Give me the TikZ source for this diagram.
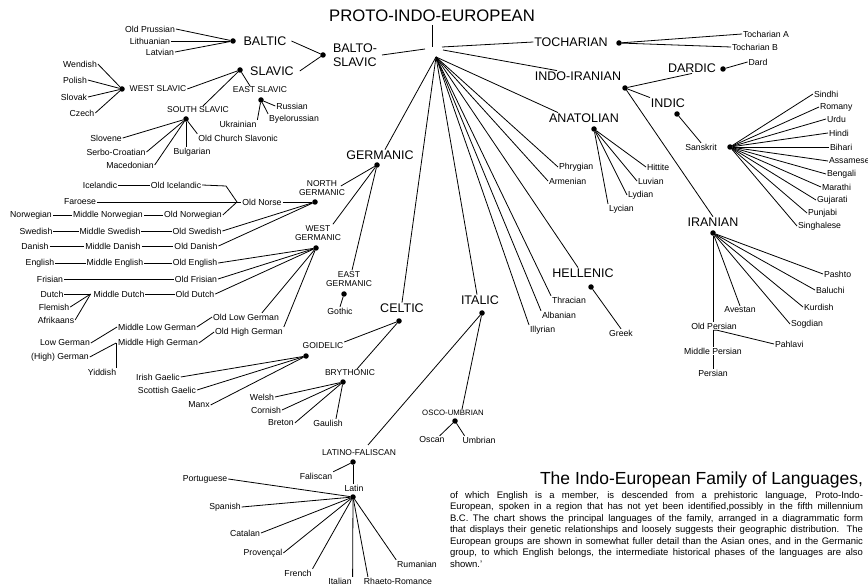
\documentclass[tikz,border=0pt]{standalone}
\usepackage{fontspec}
\setmainfont{Liberation Sans}
\begin{document}
\begin{tikzpicture}[x=1pt,y=-1pt,line width=0.8pt,
  every node/.style={inner sep=1pt, outer sep=0pt},
  lab/.style={font=\fontsize{8.7}{9}\selectfont},
  sub/.style={font=\fontsize{8.5}{9.5}\selectfont, align=center},
  grp/.style={font=\fontsize{12.5}{14}\selectfont},
  dot/.style={circle, fill=black, inner sep=0pt, minimum size=5.5pt},
  para/.style={anchor=base west, inner sep=0pt, font=\fontsize{9.5}{11}\selectfont},
]
\useasboundingbox (0,0) rectangle (868,588);

% ---------- root ----------
\node[font=\fontsize{16.7}{18}\selectfont] (pie) at (432,16) {PROTO-INDO-EUROPEAN};
\coordinate (rv) at (432,47);
\coordinate (root) at (436,57);
\coordinate (rbs) at (425,49);
\coordinate (rto) at (442,47);
\coordinate (rii) at (443,50);
\draw ([yshift=-2pt]pie.south) -- (rv);

% ---------- Balto-Slavic ----------
\node[grp, align=left] (bs) at (355,55) {BALTO-\\SLAVIC};
\node[dot] (bsd) at (323,55) {};
\draw (rbs) -- ([xshift=4pt]bs.east);
\node[grp] (baltic) at (265,41) {BALTIC};
\node[dot] (bald) at (233,41) {};
\node[grp] (slavic) at (272,71) {SLAVIC};
\node[dot] (slad) at (240,70) {};
\draw (bsd) -- ([xshift=4pt]baltic.east);
\draw (bsd) -- ([xshift=5pt]slavic.east);

\node[lab] (oprus) at (150,29) {Old Prussian};
\node[lab] (lith) at (150,41) {Lithuanian};
\node[lab] (latv) at (160,52) {Latvian};
\foreach \n in {oprus,lith,latv} \draw (\n.east) -- (bald);

\node[sub] (wsl) at (158,89) {WEST SLAVIC};
\node[dot] (wsld) at (122,89) {};
\node[sub] (ssl) at (198,110) {SOUTH SLAVIC};
\node[dot] (ssld) at (186,119) {};
\node[sub] (esl) at (260,90) {EAST SLAVIC};
\node[dot] (esld) at (261,100) {};
\draw (slad) -- (wsl.east);
\draw (slad) -- ([xshift=5pt]ssl.north);
\draw (slad) -- ([xshift=-10pt]esl.north);

\node[lab] (wend) at (80,64) {Wendish};
\node[lab] (pol) at (75,80) {Polish};
\node[lab] (slk) at (74,97) {Slovak};
\node[lab] (cze) at (82,113) {Czech};
\foreach \n in {wend,pol,slk,cze} \draw (\n.east) -- (wsld);

\node[lab] (slov) at (106,138) {Slovene};
\node[lab] (serb) at (116,152) {Serbo-Croatian};
\node[lab] (mac) at (130,165) {Macedonian};
\node[lab] (bul) at (192,152) {Bulgarian};
\node[lab] (ocs) at (238,138) {Old Church Slavonic};
\foreach \n in {slov,serb,mac} \draw (\n.east) -- (ssld);
\draw (ssld) -- (ssld |- bul.north);
\draw (ssld) -- (ocs.north west);

\node[lab] (ukr) at (238,124) {Ukrainian};
\node[lab] (rus) at (292,106) {Russian};
\node[lab] (bye) at (294,119) {Byelorussian};
\draw (esld) -- (ukr.north east);
\draw (esld) -- (rus.west);
\draw (esld) -- (bye.north west);

% ---------- Tocharian ----------
\node[grp] (toch) at (571,42) {TOCHARIAN};
\node[dot] (tochd) at (619,43) {};
\node[lab] (tocha) at (766,34) {Tocharian A};
\node[lab] (tochb) at (755,47) {Tocharian B};
\draw (rto) -- (toch.west);
\draw (tochd) -- (tocha.west);
\draw (tochd) -- (tochb.west);

% ---------- Indo-Iranian ----------
\node[grp] (ii) at (578,76) {INDO-IRANIAN};
\node[dot] (iid) at (625,88) {};
\draw (rii) -- ([xshift=-21pt]ii.north);
\node[grp] (dardic) at (692,68) {DARDIC};
\node[dot] (dardd) at (723,69) {};
\node[lab] (dard) at (758,62) {Dard};
\draw (iid) -- (dardic.south);
\draw (dardd) -- (dard.west);
\node[grp] (indic) at (668,103) {INDIC};
\node[dot] (indd) at (677,114) {};
\draw (iid) -- (indic.north west);
\node[lab] (skt) at (701,147) {Sanskrit};
\node[dot] (sktd) at (730,147) {};
\draw (indd) -- (skt.north);

\node[lab,anchor=west] (sindhi) at (813,94) {Sindhi};
\node[lab,anchor=west] (romany) at (819,107) {Romany};
\node[lab,anchor=west] (urdu) at (826,119) {Urdu};
\node[lab,anchor=west] (hindi) at (828,133) {Hindi};
\node[lab,anchor=west] (bihari) at (829,147) {Bihari};
\node[lab,anchor=west] (assam) at (828,161) {Assamese};
\node[lab,anchor=west] (beng) at (826,174) {Bengali};
\node[lab,anchor=west] (mara) at (821,187) {Marathi};
\node[lab,anchor=west] (guja) at (816,200) {Gujarati};
\node[lab,anchor=west] (punj) at (807,213) {Punjabi};
\node[lab,anchor=west] (sing) at (797,226) {Singhalese};
\foreach \n in {sindhi,romany,urdu,hindi,bihari,assam,beng,mara,guja,punj,sing} \draw (sktd) -- (\n.west);

\node[grp] (iran) at (713,222) {IRANIAN};
\node[dot] (irand) at (713,233) {};
\draw (iid) -- (iran.north);
\node[lab,anchor=west] (pasht) at (823,274) {Pashto};
\node[lab,anchor=west] (baluc) at (815,290) {Baluchi};
\node[lab,anchor=west] (kurd) at (803,307) {Kurdish};
\node[lab,anchor=west] (sogd) at (790,324) {Sogdian};
\foreach \n in {pasht,baluc,kurd,sogd} \draw (irand) -- (\n.west);
\node[lab] (avest) at (740,310) {Avestan};
\draw (irand) -- (avest.north);
\node[lab] (opers) at (714,326) {Old Persian};
\node[lab] (mpers) at (713,351) {Middle Persian};
\node[lab] (pers) at (713,373) {Persian};
\node[lab,anchor=west] (pahl) at (774,344) {Pahlavi};
\draw (irand) -- (irand |- opers.north);
\draw (opers.south -| irand) -- (mpers.north -| irand);
\draw (opers.south -| irand) -- ++(4,0) -- (pahl.west);
\draw (mpers.south -| irand) -- (pers.north -| irand);

% ---------- Anatolian ----------
\node[grp] (anat) at (584,118) {ANATOLIAN};
\node[dot] (anatd) at (594,129) {};
\draw (root) -- ([xshift=-26pt]anat.north);
\node[lab,anchor=west] (hitt) at (646,167) {Hittite};
\node[lab,anchor=west] (luv) at (637,181) {Luvian};
\node[lab,anchor=west] (lyd) at (627,195) {Lydian};
\node[lab,anchor=west] (lyc) at (608,209) {Lycian};
\foreach \n in {hitt,luv,lyd} \draw (anatd) -- (\n.west);
\draw (anatd) -- (lyc.north west);

\node[lab,anchor=west] (phry) at (558,167) {Phrygian};
\node[lab,anchor=west] (arm) at (548,181) {Armenian};
\draw (root) -- (phry.west);
\draw (root) -- (arm.west);

% ---------- Hellenic etc ----------
\node[grp] (hell) at (583,273) {HELLENIC};
\node[dot] (helld) at (591,287) {};
\node[lab] (greek) at (621,333) {Greek};
\draw (root) -- ([xshift=-5pt]hell.north);
\draw (helld) -- (greek.north);

\node[lab,anchor=west] (thra) at (551,300) {Thracian};
\node[lab,anchor=west] (alb) at (541,315) {Albanian};
\node[lab,anchor=west] (ill) at (529,330) {Illyrian};
\foreach \n in {thra,alb,ill} \draw (root) -- (\n.north west);

% ---------- Italic ----------
\node[grp] (ital) at (480,300) {ITALIC};
\node[dot] (itald) at (482,313) {};
\draw (root) -- ([xshift=-3pt]ital.north);

\node[sub,font=\fontsize{7.8}{9}\selectfont] (ou) at (453,413) {OSCO-UMBRIAN};
\node[dot] (oud) at (455,421) {};
\draw (itald) -- ([xshift=9pt]ou.north);
\node[lab] (oscan) at (432,440) {Oscan};
\node[lab] (umbr) at (479,440) {Umbrian};
\draw (oud) -- ([xshift=-6pt]oscan.north east);
\draw (oud) -- ([xshift=3pt]umbr.north west);

\node[sub] (lf) at (359,453) {LATINO-FALISCAN};
\node[dot] (lfd) at (353,462) {};
\draw (itald) -- ([xshift=9pt,yshift=4pt]lf.north);
\node[lab] (falis) at (316,476) {Faliscan};
\draw (lfd) -- (falis.north east);
\node[lab] (latin) at (354,488) {Latin};
\draw (lfd) -- (lfd |- latin.north);
\node[dot] (latd) at (353,497) {};

\node[lab] (port) at (205,479) {Portuguese};
\node[lab] (span) at (225,507) {Spanish};
\node[lab] (cat) at (245,533) {Catalan};
\node[lab] (prov) at (263,553) {Provençal};
\node[lab] (fren) at (298,573) {French};
\node[lab] (itl) at (340,581) {Italian};
\node[lab] (rhr) at (398,581) {Rhaeto-Romance};
\node[lab] (rum) at (417,564) {Rumanian};
\foreach \n in {port,span,cat,prov} \draw (\n.east) -- (latd);
\draw (latd) -- (fren.north east);
\draw (latd) -- (itl.north east);
\draw (latd) -- ([xshift=5pt]rhr.north west);
\draw (latd) -- (rum.north west);

% ---------- Celtic ----------
\node[grp] (celt) at (402,308) {CELTIC};
\node[dot] (celtd) at (399,321) {};
\draw (root) -- (celt.north);
\node[sub] (goid) at (323,346) {GOIDELIC};
\node[dot] (goidd) at (306,356) {};
\node[sub] (bryth) at (350,373) {BRYTHONIC};
\node[dot] (brythd) at (343,382) {};
\draw (celtd) -- (goid.north east);
\draw (celtd) -- ([xshift=7pt]bryth.north);
\node[lab] (irish) at (158,377) {Irish Gaelic};
\node[lab] (scot) at (167,390) {Scottish Gaelic};
\node[lab] (manx) at (199,405) {Manx};
\foreach \n in {irish,scot,manx} \draw (\n.east) -- (goidd);
\node[lab] (welsh) at (262,397) {Welsh};
\node[lab] (corn) at (266,410) {Cornish};
\node[lab] (bret) at (281,423) {Breton};
\node[lab] (gaul) at (328,423) {Gaulish};
\foreach \n in {welsh,corn,bret} \draw (\n.east) -- (brythd);
\draw (brythd) -- ([xshift=8pt]gaul.north);

% ---------- Germanic ----------
\node[grp] (germ) at (380,155) {GERMANIC};
\node[dot] (germd) at (377,165) {};
\draw (root) -- ([xshift=5pt]germ.north);
\node[sub] (ng) at (322,188) {NORTH\\GERMANIC};
\node[dot] (ngd) at (315,202) {};
\node[sub] (wg) at (318,233) {WEST\\GERMANIC};
\node[dot] (wgd) at (316,248) {};
\node[sub] (eg) at (349,279) {EAST\\GERMANIC};
\node[dot] (egd) at (344,294) {};
\node[lab] (goth) at (340,311) {Gothic};
\draw (germd) -- ([xshift=-5pt,yshift=2pt]ng.east);
\draw (germd) -- ([xshift=-9pt]wg.north east);
\draw (germd) -- ([xshift=3pt]eg.north);
\draw (egd) -- (goth.north);

\node[lab] (oldnorse) at (262,202) {Old Norse};
\coordinate (onj) at (237,202);
\node[lab] (icel) at (100,185) {Icelandic};
\node[lab] (oicel) at (176,185) {Old Icelandic};
\coordinate (oib) at (226,186);
\node[lab] (faro) at (80,202) {Faroese};
\node[lab] (norw) at (31,215) {Norwegian};
\node[lab] (mnorw) at (108,215) {Middle Norwegian};
\node[lab] (onorw) at (193,215) {Old Norwegian};
\node[lab] (swed) at (36,231) {Swedish};
\node[lab] (mswed) at (110,231) {Middle Swedish};
\node[lab] (oswed) at (197,231) {Old Swedish};
\node[lab] (dan) at (35,246) {Danish};
\node[lab] (mdan) at (113,246) {Middle Danish};
\node[lab] (odan) at (196,246) {Old Danish};
\draw (icel.east) -- (oicel.west);
\draw (oicel.east) -- (oib) -- (onj);
\draw (faro.east) -- (onj);
\draw (norw.east) -- (mnorw.west);
\draw (mnorw.east) -- (onorw.west);
\draw (onorw.east) -- (onj);
\draw (onj) -- (oldnorse.west);
\draw (oldnorse.east) -- (ngd);
\draw (swed.east) -- (mswed.west);
\draw (mswed.east) -- (oswed.west);
\draw (oswed.east) -- (ngd);
\draw (dan.east) -- (mdan.west);
\draw (mdan.east) -- (odan.west);
\draw (odan.east) -- (ngd);

\node[lab] (eng) at (40,263) {English};
\node[lab] (meng) at (115,263) {Middle English};
\node[lab] (oeng) at (195,263) {Old English};
\node[lab] (fris) at (50,279) {Frisian};
\node[lab] (ofris) at (196,279) {Old Frisian};
\node[lab] (dutch) at (52,294) {Dutch};
\node[lab] (mdutch) at (119,294) {Middle Dutch};
\node[lab] (odutch) at (195,294) {Old Dutch};
\node[lab] (flem) at (54,307) {Flemish};
\node[lab] (afr) at (56,320) {Afrikaans};
\coordinate (dj) at ([xshift=-2pt]mdutch.west);
\draw (eng.east) -- (meng.west);
\draw (meng.east) -- (oeng.west);
\draw (fris.east) -- (ofris.west);
\draw (dutch.east) -- (dj);
\draw (flem.east) -- (dj);
\draw (afr.east) -- (dj);
\draw (mdutch.east) -- (odutch.west);
\foreach \n in {oeng,ofris,odutch} \draw (\n.east) -- (wgd);

\node[lab] (olg) at (246,317) {Old Low German};
\node[lab] (ohg) at (249,332) {Old High German};
\node[lab] (mlg) at (157,327) {Middle Low German};
\node[lab] (mhg) at (158,343) {Middle High German};
\node[lab] (lowg) at (65,343) {Low German};
\node[lab] (highg) at (60,357) {(High) German};
\node[lab] (yidd) at (102,372) {Yiddish};
\coordinate (mhj) at ([xshift=-1pt]mhg.west);
\draw (wgd) -- ([xshift=16pt]olg.north);
\draw (wgd) -- (ohg.north east);
\draw (mlg.east) -- (olg.west);
\draw (mhg.east) -- (ohg.west);
\draw (lowg.east) -- (mlg.west);
\draw (highg.east) -- (mhj);
\draw (mhj) -- (mhj |- yidd.north);

% ---------- caption ----------
\node[anchor=base east, inner sep=0pt, font=\fontsize{17.5}{20}\selectfont] (ttl) at (863,484) {The Indo-European Family of Languages,};
\node[para] (p1) at (450,498) {\makebox[413pt][s]{of which English is a member, is descended from a prehistoric language, Proto-Indo-}};
\node[para] (p2) at (450,509.5) {\makebox[413pt][s]{European, spoken in a region that has not yet been identified,possibly in the fifth millennium}};
\node[para] (p3) at (450,521) {\makebox[413pt][s]{B.C. The chart shows the principal languages of the family, arranged in a diagrammatic form}};
\node[para] (p4) at (450,532.5) {\makebox[413pt][s]{that displays their genetic relationships and loosely suggests their geographic distribution. The}};
\node[para] (p5) at (450,544) {\makebox[413pt][s]{European groups are shown in somewhat fuller detail than the Asian ones, and in the Germanic}};
\node[para] (p6) at (450,555.5) {\makebox[413pt][s]{group, to which English belongs, the intermediate historical phases of the languages are also}};
\node[para] (p7) at (450,567) {shown.'};
\end{tikzpicture}
\end{document}
